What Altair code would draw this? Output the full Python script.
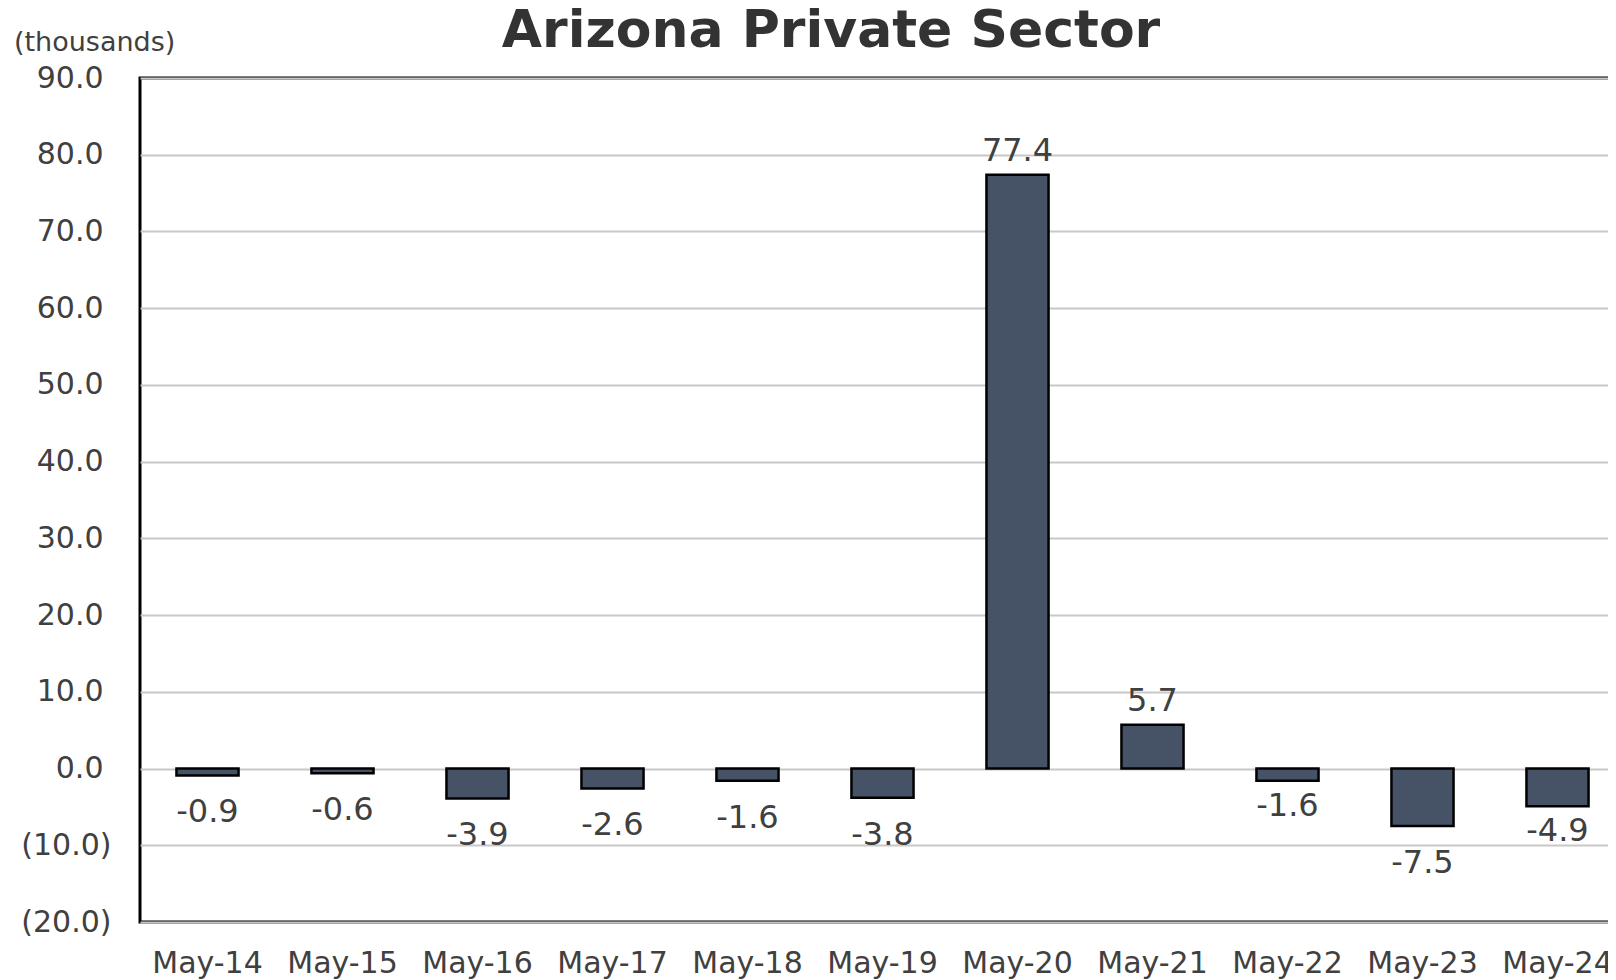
import json
import altair as alt
import pandas as pd

categories = ["May-14", "May-15", "May-16", "May-17", "May-18", "May-19",
              "May-20", "May-21", "May-22", "May-23", "May-24"]
values = [-0.9, -0.6, -3.9, -2.6, -1.6, -3.8, 77.4, 5.7, -1.6, -7.5, -4.9]
y_ticks = [-20, -10, 0, 10, 20, 30, 40, 50, 60, 70, 80, 90]
title_text = "Arizona Private Sector"
unit_text = "(thousands)"
near_labels = ["May-22", "May-24"]

df = pd.DataFrame({"month": categories, "value": values})

FONT = "DejaVu Sans"
TXT = "#404040"

x_enc = alt.X(
    "month:N",
    sort=categories,
    scale=alt.Scale(paddingInner=0.54, paddingOuter=0.27),
    axis=alt.Axis(title=None, labelAngle=0, ticks=False, domain=False,
                  labelPadding=26, labelFontSize=30, labelColor=TXT,
                  labelFont=FONT, grid=False),
)
y_enc = alt.Y(
    "value:Q",
    scale=alt.Scale(domain=[-20, 90], nice=False),
    axis=alt.Axis(
        title=None, values=y_ticks, ticks=False, domain=False,
        labelPadding={"condition": {"test": "datum.value < 0", "value": 29},
                      "value": 37},
        labelFontSize=30, labelColor=TXT, labelFont=FONT,
        labelExpr="datum.value < 0 ? '(' + format(-datum.value, '.1f') + ')' : format(datum.value, '.1f')",
        grid=True, gridColor="#c8c8c8", gridWidth=2,
    ),
)

base = alt.Chart(df).transform_calculate(
    label="datum.value < 0 ? '-' + format(-datum.value, '.1f') : format(datum.value, '.1f')"
)

bars = base.mark_bar(color="#465266", stroke="black", strokeWidth=2.5).encode(
    x=x_enc, y=y_enc
)

label_style = dict(baseline="middle", align="center", fontSize=32,
                   color=TXT, font=FONT)
lbl = dict(x=alt.X("month:N", sort=categories), y=alt.Y("value:Q"),
           text=alt.Text("label:N"))

near_expr = "indexof(" + json.dumps(near_labels) + ", datum.month)"

pos_labels = base.transform_filter("datum.value >= 0").mark_text(
    dy=-24, **label_style).encode(**lbl)
neg_labels = base.transform_filter(
    "datum.value < 0 && " + near_expr + " < 0").mark_text(
    dy=37, **label_style).encode(**lbl)
neg_near_labels = base.transform_filter(
    "datum.value < 0 && " + near_expr + " >= 0").mark_text(
    dy=25, **label_style).encode(**lbl)

title_mark = alt.Chart(pd.DataFrame({"t": [title_text]})).mark_text(
    fontSize=52, fontWeight="bold", font=FONT, color="#333333",
    align="center", baseline="alphabetic"
).encode(x=alt.value(691), y=alt.value(-31), text="t:N")

unit_mark = alt.Chart(pd.DataFrame({"t": [unit_text]})).mark_text(
    fontSize=27, font=FONT, color=TXT, align="left", baseline="middle"
).encode(x=alt.value(-126), y=alt.value(-35), text="t:N")

chart = alt.layer(
    bars, pos_labels, neg_labels, neg_near_labels, title_mark, unit_mark
).properties(
    width=1485, height=844,
    autosize=alt.AutoSizeParams(type="none"),
    padding={"left": 132, "top": 70, "right": -17, "bottom": 58},
    background="white",
).configure_view(
    stroke="black", strokeWidth=3
)

chart.save("out.html", embed_options={"renderer": "svg", "actions": False})
